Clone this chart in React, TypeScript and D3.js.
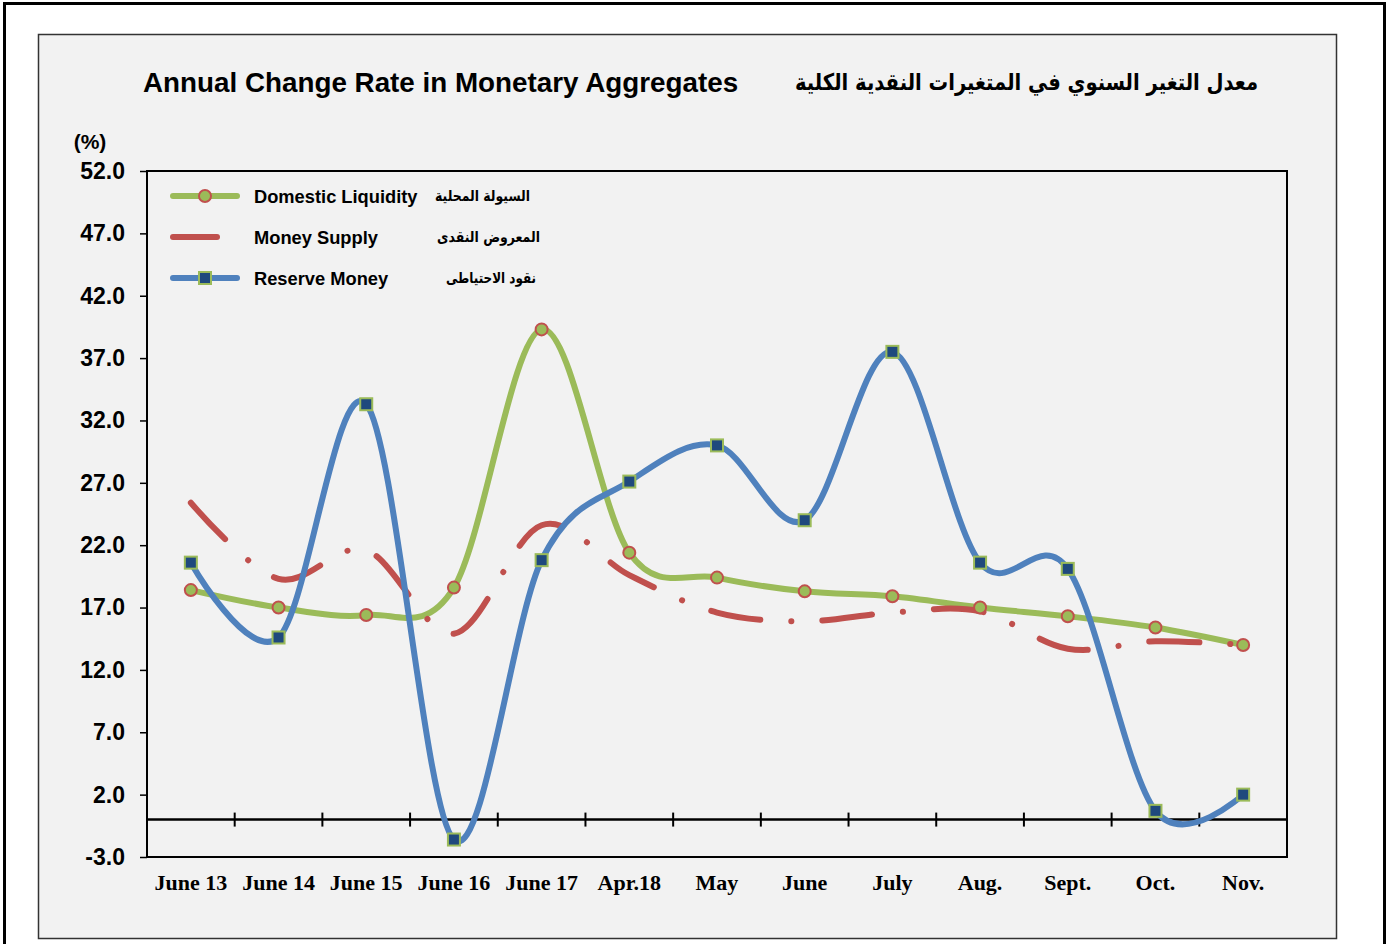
import React, { useEffect, useRef } from 'react';
import * as d3 from 'd3';

const categories = ['June 13', 'June 14', 'June 15', 'June 16', 'June 17', 'Apr.18', 'May', 'June', 'July', 'Aug.', 'Sept.', 'Oct.', 'Nov.'];
const domesticLiquidity = [18.4, 17.0, 16.4, 18.6, 39.3, 21.4, 19.4, 18.3, 17.9, 17.0, 16.3, 15.4, 14.0];
const moneySupply = [25.4, 19.3, 21.6, 14.9, 23.6, 19.6, 16.6, 15.9, 16.6, 16.7, 13.7, 14.3, 14.0];
const reserveMoney = [20.6, 14.6, 33.3, -1.6, 20.8, 27.1, 30.0, 24.0, 37.5, 20.6, 20.1, 0.7, 2.0];
const yTicks = [52, 47, 42, 37, 32, 27, 22, 17, 12, 7, 2, -3];

const legendItems = [
  { en: 'Domestic Liquidity', ar: 'السيولة المحلية', key: 'dl' },
  { en: 'Money Supply', ar: 'المعروض النقدى', key: 'ms' },
  { en: 'Reserve Money', ar: 'نقود الاحتياطى', key: 'rm' },
];

const GREEN = '#9bbb59';
const RED = '#c0504d';
const BLUE = '#4f81bd';
const NAVY = '#1f497d';
const SANS = 'Liberation Sans, Arial, sans-serif';
const SERIF = 'Liberation Serif, Times New Roman, serif';
const ARABIC = 'DejaVu Sans, sans-serif';

function App() {
  const ref = useRef<SVGSVGElement>(null);

  useEffect(() => {
    const svg = d3.select(ref.current);
    svg.selectAll('*').remove();

    const plot = { left: 147, top: 171, right: 1287, bottom: 857 };

    // frames
    svg.append('rect').attr('x', 0).attr('y', 0).attr('width', 1389).attr('height', 944).attr('fill', '#fff');
    svg.append('rect').attr('x', 4.5).attr('y', 3.5).attr('width', 1380).attr('height', 960)
      .attr('fill', 'none').attr('stroke', '#000').attr('stroke-width', 3);
    svg.append('rect').attr('x', 38.5).attr('y', 34.5).attr('width', 1298).attr('height', 904)
      .attr('fill', '#f2f2f2').attr('stroke', '#333').attr('stroke-width', 1.5);

    // titles
    svg.append('text').attr('x', 143).attr('y', 92)
      .style('font-family', SANS).style('font-weight', 'bold').style('font-size', '27.8px')
      .text('Annual Change Rate in Monetary Aggregates');
    svg.append('text').attr('x', 1258).attr('y', 90).attr('text-anchor', 'end')
      .attr('textLength', 463).attr('lengthAdjust', 'spacingAndGlyphs')
      .style('font-family', ARABIC).style('font-weight', 'bold').style('font-size', '23px')
      .text('معدل التغير السنوي في المتغيرات النقدية الكلية');

    const x = d3.scalePoint<string>().domain(categories).range([plot.left, plot.right]).padding(0.5);
    const step = x.step();
    const y = d3.scaleLinear().domain([-3, 52]).range([plot.bottom, plot.top]);

    svg.append('rect').attr('x', plot.left).attr('y', plot.top)
      .attr('width', plot.right - plot.left).attr('height', plot.bottom - plot.top)
      .attr('fill', '#f2f2f2').attr('stroke', '#000').attr('stroke-width', 2);

    // y axis
    const yAxis = svg.append('g').attr('transform', `translate(${plot.left},0)`)
      .call(d3.axisLeft(y).tickValues(yTicks).tickSize(7).tickPadding(15)
        .tickFormat((d) => (+d).toFixed(1)));
    yAxis.select('.domain').remove();
    yAxis.selectAll('line').attr('stroke', '#000').attr('stroke-width', 1.5);
    yAxis.selectAll('text')
      .style('font-family', SANS).style('font-weight', 'bold').style('font-size', '23px').attr('fill', '#000');

    svg.append('text').attr('x', 90).attr('y', 149).attr('text-anchor', 'middle')
      .style('font-family', SANS).style('font-weight', 'bold').style('font-size', '21px')
      .text('(%)');

    // zero line with ticks at category boundaries
    svg.append('line').attr('x1', plot.left).attr('x2', plot.right).attr('y1', y(0)).attr('y2', y(0))
      .attr('stroke', '#000').attr('stroke-width', 2.5);
    svg.append('g').selectAll('line').data(categories.slice(1)).enter().append('line')
      .attr('x1', (d) => x(d)! - step / 2).attr('x2', (d) => x(d)! - step / 2)
      .attr('y1', y(0) - 7).attr('y2', y(0) + 7)
      .attr('stroke', '#000').attr('stroke-width', 2);

    // x labels
    svg.append('g').selectAll('text').data(categories).enter().append('text')
      .attr('x', (d) => x(d)!).attr('y', 890).attr('text-anchor', 'middle')
      .style('font-family', SERIF).style('font-weight', 'bold').style('font-size', '22px')
      .text((d) => d);

    const line = d3.line<number>()
      .x((d, i) => x(categories[i])!)
      .y((d) => y(d))
      .curve(d3.curveCatmullRom.alpha(0));

    svg.append('path').attr('d', line(domesticLiquidity)).attr('fill', 'none')
      .attr('stroke', GREEN).attr('stroke-width', 6).attr('stroke-linecap', 'round');
    svg.append('path').attr('d', line(moneySupply)).attr('fill', 'none')
      .attr('stroke', RED).attr('stroke-width', 6).attr('stroke-linecap', 'round')
      .attr('stroke-dasharray', '50 31 0.1 31');
    svg.append('path').attr('d', line(reserveMoney)).attr('fill', 'none')
      .attr('stroke', BLUE).attr('stroke-width', 6).attr('stroke-linecap', 'round');

    svg.append('g').selectAll('circle').data(domesticLiquidity).enter().append('circle')
      .attr('cx', (d, i) => x(categories[i])!).attr('cy', (d) => y(d)).attr('r', 6)
      .attr('fill', GREEN).attr('stroke', RED).attr('stroke-width', 2);
    svg.append('g').selectAll('rect').data(reserveMoney).enter().append('rect')
      .attr('x', (d, i) => x(categories[i])! - 6).attr('y', (d) => y(d) - 6)
      .attr('width', 12).attr('height', 12)
      .attr('fill', NAVY).attr('stroke', GREEN).attr('stroke-width', 2);

    // legend
    const legend = svg.append('g');
    legendItems.forEach((item, i) => {
      const ly = 196 + i * 41;
      const g = legend.append('g');
      if (item.key === 'dl') {
        g.append('line').attr('x1', 173).attr('x2', 237).attr('y1', ly).attr('y2', ly)
          .attr('stroke', GREEN).attr('stroke-width', 6).attr('stroke-linecap', 'round');
        g.append('circle').attr('cx', 205).attr('cy', ly).attr('r', 6)
          .attr('fill', GREEN).attr('stroke', RED).attr('stroke-width', 2);
      } else if (item.key === 'ms') {
        g.append('line').attr('x1', 173).attr('x2', 217).attr('y1', ly).attr('y2', ly)
          .attr('stroke', RED).attr('stroke-width', 6).attr('stroke-linecap', 'round');
      } else {
        g.append('line').attr('x1', 173).attr('x2', 237).attr('y1', ly).attr('y2', ly)
          .attr('stroke', BLUE).attr('stroke-width', 6).attr('stroke-linecap', 'round');
        g.append('rect').attr('x', 199).attr('y', ly - 6).attr('width', 12).attr('height', 12)
          .attr('fill', NAVY).attr('stroke', GREEN).attr('stroke-width', 2);
      }
      g.append('text').attr('x', 254).attr('y', ly + 6.5)
        .style('font-family', SANS).style('font-weight', 'bold').style('font-size', '18.3px')
        .text(item.en);
      g.append('text').attr('x', [530, 540, 536][i]).attr('y', ly + 5).attr('text-anchor', 'end')
        .attr('textLength', [95, 103, 90][i]).attr('lengthAdjust', 'spacingAndGlyphs')
        .style('font-family', ARABIC).style('font-weight', 'bold').style('font-size', '15px')
        .text(item.ar);
    });
  }, []);

  return (
    <svg ref={ref} width={1389} height={944}
      style={{ position: 'absolute', left: 0, top: 0, display: 'block' }} />
  );
}

export default App;
